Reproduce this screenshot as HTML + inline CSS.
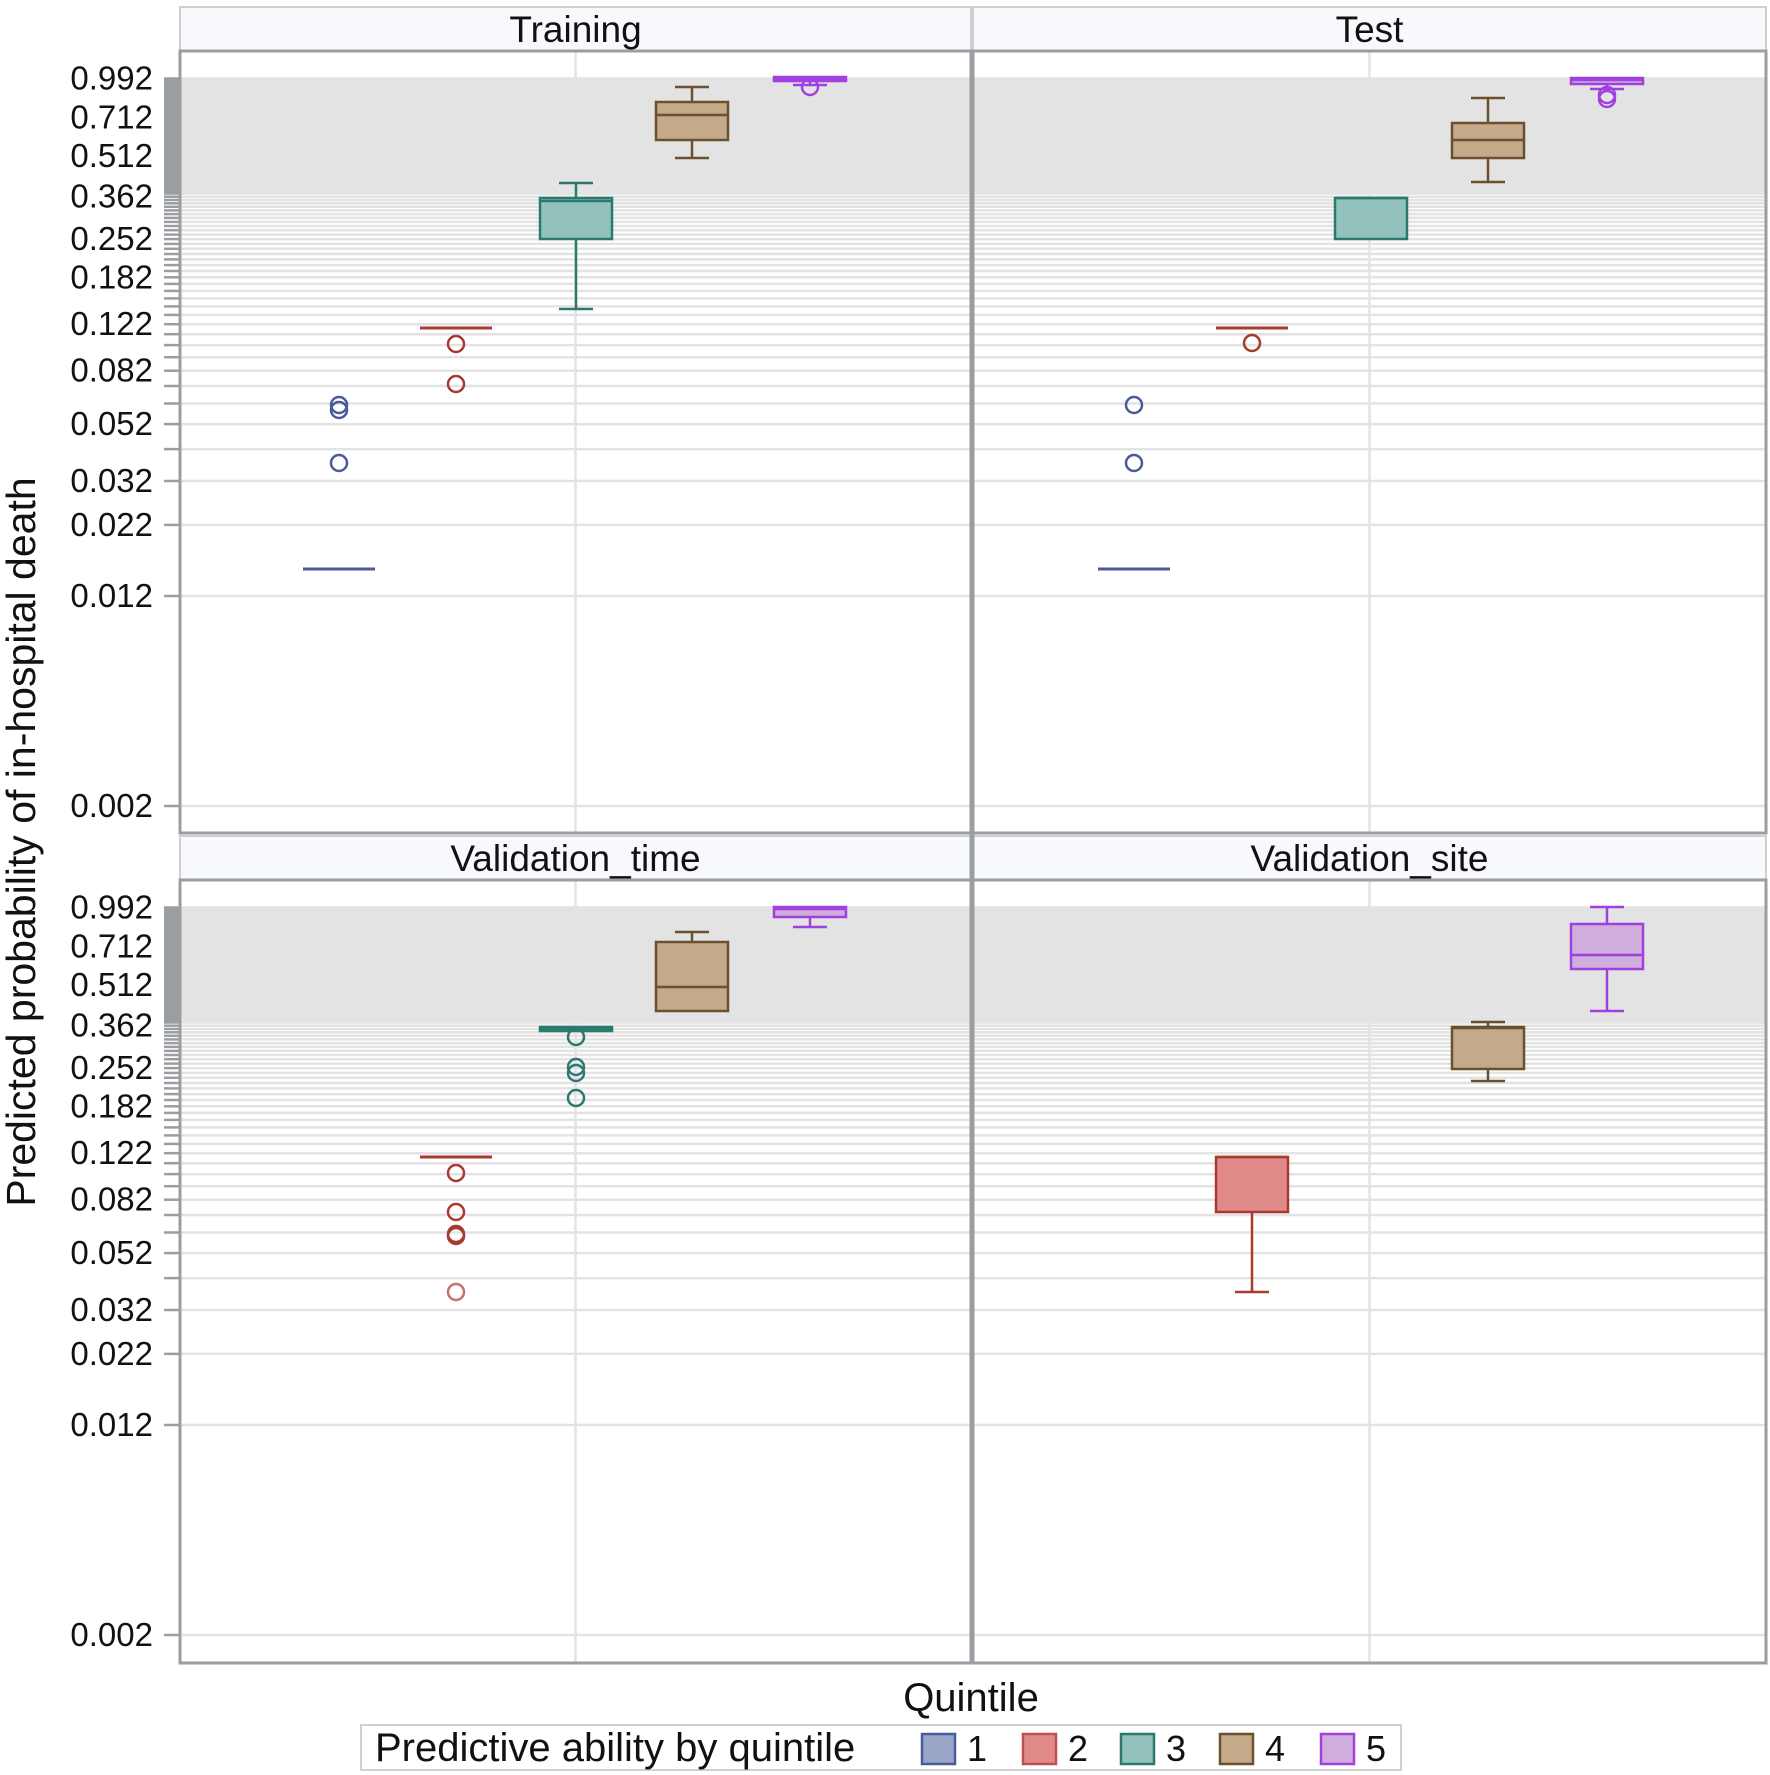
<!DOCTYPE html>
<html><head><meta charset="utf-8"><style>
html,body{margin:0;padding:0;background:#fff;}
svg{display:block;font-family:"Liberation Sans",sans-serif;}
</style></head><body>
<svg id="s" width="1770" height="1775" xmlns="http://www.w3.org/2000/svg"></svg>
<script>
const s=document.getElementById('s');let h='';
const A=77.6,B=117.2;
function Y(v,off){return A-B*Math.log(v)+off;}
const panels=[{x0:180,x1:971,yo:0,st:7,sb:51,pt:51,pb:833,title:'Training'},
{x0:973,x1:1766,yo:0,st:7,sb:51,pt:51,pb:833,title:'Test'},
{x0:180,x1:971,yo:829,st:836,sb:880,pt:880,pb:1663,title:'Validation_time'},
{x0:973,x1:1766,yo:829,st:836,sb:880,pt:880,pb:1663,title:'Validation_site'}];
const labs=['0.002','0.012','0.022','0.032','0.052','0.082','0.122','0.182','0.252','0.362','0.512','0.712','0.992'];
panels.forEach((p,i)=>{
 h+=`<rect x="${p.x0}" y="${p.st}" width="${p.x1-p.x0}" height="${p.sb-p.st}" fill="#f8f9fd" stroke="#cfcfcf" stroke-width="2"/>`;
 h+=`<text x="${(p.x0+p.x1)/2}" y="${p.sb-9}" font-size="37" text-anchor="middle" fill="#111">${p.title}</text>`;
 h+=`<rect x="${p.x0}" y="${p.pt}" width="${p.x1-p.x0}" height="${p.pb-p.pt}" fill="#fff"/>`;
 const cx=(p.x0+p.x1)/2;
 h+=`<line x1="${cx}" y1="${p.pt}" x2="${cx}" y2="${p.pb}" stroke="#e3e3e3" stroke-width="2.5"/>`;
 const yb=Y(0.992,p.yo), ye=Y(0.37,p.yo);
 h+=`<rect x="${p.x0}" y="${yb}" width="${p.x1-p.x0}" height="${ye-yb}" fill="#e4e4e4"/>`;
 if(i%2==0)h+=`<rect x="164" y="${yb}" width="15" height="${ye-yb}" fill="#9a9ea2"/>`;
 for(let k=0;k<100;k++){const v=0.002+0.01*k;const y=Y(v,p.yo).toFixed(1);
  h+=`<line x1="${p.x0}" y1="${y}" x2="${p.x1}" y2="${y}" stroke="#e3e3e3" stroke-width="2.5"/>`;
  if(i%2==0)h+=`<line x1="164" y1="${y}" x2="179" y2="${y}" stroke="#9a9ea2" stroke-width="2.5"/>`;}
 if(i%2==0)labs.forEach(l=>{h+=`<text x="153" y="${(Y(+l,p.yo)+11).toFixed(1)}" font-size="33" text-anchor="end" fill="#111">${l}</text>`;});
});
const C={1:['#4a5a9a','#9aa6c8'],2:['#a83a30','#e08a8a'],3:['#2a7a70','#93c2bc'],4:['#6b5030','#c4aa88'],5:['#a040e0','#cfaedd']};
const XL=[339,456,576,692,810],XR=[1134,1252,1371,1488,1607];
function line(x1,y1,x2,y2,c,w){h+=`<line x1="${x1}" y1="${y1}" x2="${x2}" y2="${y2}" stroke="${c}" stroke-width="${w||2.5}"/>`;}
function med(x,y,q){line(x-36,y,x+36,y,C[q][0],3);}
function circ(x,y,q,op){h+=`<circle cx="${x}" cy="${y}" r="8" fill="none" stroke="${C[q][0]}" stroke-width="2.5" opacity="${op||1}"/>`;}
function box(x,q,wt,bt,m,bb,wb){const c=C[q][0];
 if(wt!=null){line(x,wt,x,bt,c);line(x-17,wt,x+17,wt,c);}
 if(wb!=null){line(x,bb,x,wb,c);line(x-17,wb,x+17,wb,c);}
 h+=`<rect x="${x-36}" y="${bt}" width="72" height="${Math.max(bb-bt,2)}" fill="${C[q][1]}" stroke="${c}" stroke-width="2.5"/>`;
 line(x-36,m,x+36,m,c);}
// Training
med(XL[0],569,1);circ(XL[0],405,1);circ(XL[0],410,1);circ(XL[0],463,1);
med(XL[1],328,2);circ(XL[1],344,2);circ(XL[1],384,2);
box(XL[2],3,183,198,201,239,309);
box(XL[3],4,87,102,115,140,158);
box(XL[4],5,null,77,79,81,85);circ(XL[4],87,5);
// Test
med(XR[0],569,1);circ(XR[0],405,1);circ(XR[0],463,1);
med(XR[1],328,2);circ(XR[1],343,2);
box(XR[2],3,null,198,198,239,null);
box(XR[3],4,98,123,140,158,182);
box(XR[4],5,null,78,80,84,89);circ(XR[4],95,5);circ(XR[4],99,5);
// Validation_time
med(XL[1],1157,2);circ(XL[1],1173,2);circ(XL[1],1212,2);circ(XL[1],1234,2);circ(XL[1],1236,2);circ(XL[1],1292,2,0.7);
box(XL[2],3,null,1027,1029,1031,null);circ(XL[2],1037,3);circ(XL[2],1067,3);circ(XL[2],1073,3);circ(XL[2],1098,3);
box(XL[3],4,932,942,987,1011,null);
box(XL[4],5,null,907,909,917,927);
// Validation_site
box(XR[1],2,null,1157,1157,1212,1292);
box(XR[3],4,1022,1027,1028,1069,1081);
box(XR[4],5,907,924,955,969,1011);
// frames
panels.forEach(p=>{h+=`<rect x="${p.x0}" y="${p.pt}" width="${p.x1-p.x0}" height="${p.pb-p.pt}" fill="none" stroke="#9a9ea2" stroke-width="3"/>`;});
h+=`<line x1="972" y1="51" x2="972" y2="1663" stroke="#9a9ea2" stroke-width="5"/>`;
h+=`<text transform="translate(35,842) rotate(-90)" font-size="41" text-anchor="middle" fill="#111">Predicted probability of in-hospital death</text>`;
h+=`<text x="971" y="1711" font-size="40" text-anchor="middle" fill="#111">Quintile</text>`;
h+=`<rect x="361" y="1725" width="1040" height="45" fill="#fff" stroke="#d0d0d0" stroke-width="2"/>`;
h+=`<text x="375" y="1761" font-size="40" fill="#111">Predictive ability by quintile</text>`;
const sx=[922,1023,1121,1220,1321];
sx.forEach((x,i)=>{const q=i+1;h+=`<rect x="${x}" y="${1734}" width="33" height="30" fill="${C[q][1]}" stroke="${q==2?'#c05050':C[q][0]}" stroke-width="2.5"/>`;
 h+=`<text x="${x+45}" y="1761" font-size="36" fill="#111">${q}</text>`;});
s.innerHTML=h;
</script>
</body></html>
